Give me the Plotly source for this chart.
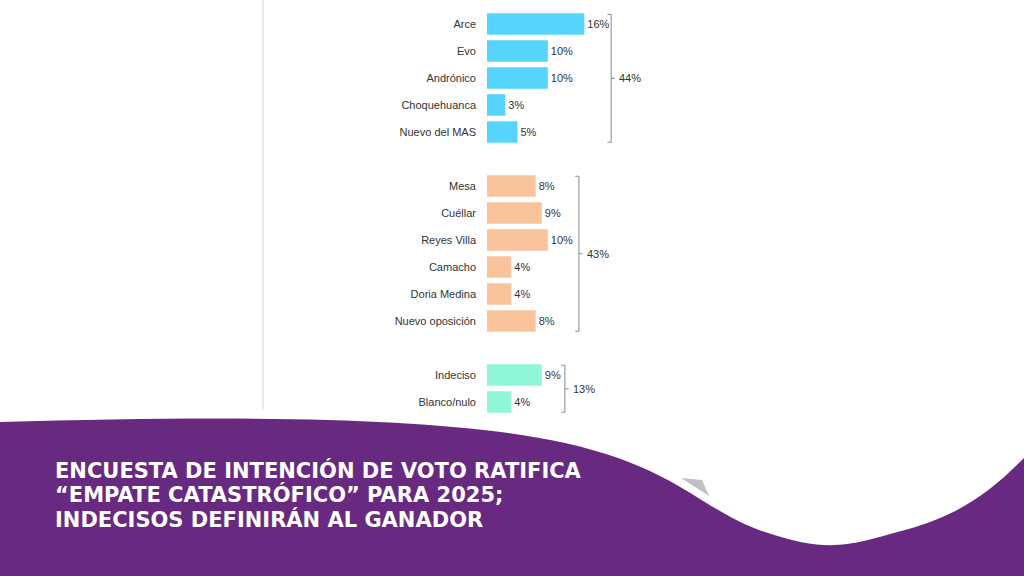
import plotly.graph_objects as go

W, H = 1024, 576

# ---- data ----
mas_names = ["Arce", "Evo", "Andrónico", "Choquehuanca", "Nuevo del MAS"]
mas_values = [16, 10, 10, 3, 5]
opo_names = ["Mesa", "Cuéllar", "Reyes Villa", "Camacho", "Doria Medina", "Nuevo oposición"]
opo_values = [8, 9, 10, 4, 4, 8]
ind_names = ["Indeciso", "Blanco/nulo"]
ind_values = [9, 4]
group_totals = ["44%", "43%", "13%"]
title_lines = [
    "ENCUESTA DE INTENCIÓN DE VOTO RATIFICA",
    "“EMPATE CATASTRÓFICO” PARA 2025;",
    "INDECISOS DEFINIRÁN AL GANADOR",
]

# ---- style ----
colors = ["#56d4fd", "#f9c49b", "#8ff7d7"]
bracket_x = [20.4, 15.1, 12.8]   # bracket position (in % units) per group
label_font = dict(family="Liberation Sans Narrow, Arial Narrow, Liberation Sans, Arial", size=11, color="#333333")
purple = "#682a80"

groups = [(mas_names, mas_values), (opo_names, opo_values), (ind_names, ind_values)]

fig = go.Figure()
tickvals, ticktext = [], []
pos = 0
group_spans = []
for gi, (names, vals) in enumerate(groups):
    ys = list(range(pos, pos + len(names)))
    fig.add_trace(go.Bar(
        x=vals, y=ys, orientation="h", width=0.8,
        marker=dict(color=colors[gi], line=dict(width=0)),
        text=[f"{v}%" for v in vals], textposition="outside",
        textfont=label_font, cliponaxis=False, showlegend=False,
        hoverinfo="skip",
    ))
    tickvals += ys
    ticktext += names
    group_spans.append((ys[0], ys[-1]))
    pos += len(names) + 1

n_rows = pos - 1

def px(x, y):
    return x / W, 1 - y / H

# axis geometry
x0_px, x1_px = 487, 700
px_per_pct = 6.085
xr = (x1_px - x0_px) / px_per_pct
row_h = 27.0
y_top_center = 24.0
top_px = y_top_center - 0.5 * row_h
bot_px = y_top_center + (n_rows - 0.5) * row_h

shapes = []
annotations = []

# brackets
for gi, (a, b) in enumerate(group_spans):
    bx = bracket_x[gi]
    t = a - 0.36
    bt = b + 0.38
    tick = 0.6
    line = dict(color="#8a8a8a", width=1)
    shapes.append(dict(type="line", xref="x", yref="y", x0=bx, x1=bx, y0=t, y1=bt, line=line))
    shapes.append(dict(type="line", xref="x", yref="y", x0=bx - tick, x1=bx, y0=t, y1=t, line=line))
    shapes.append(dict(type="line", xref="x", yref="y", x0=bx - tick, x1=bx, y0=bt, y1=bt, line=line))
    mid = (t + bt) / 2
    shapes.append(dict(type="line", xref="x", yref="y", x0=bx, x1=bx + tick, y0=mid, y1=mid, line=line))
    annotations.append(dict(xref="x", yref="y", x=bx + 1.0, y=mid, text=group_totals[gi],
                            showarrow=False, xanchor="left", yanchor="middle", font=label_font))

# vertical separator line
ax, ay = px(263, 0)
bx_, by_ = px(263, 410)
shapes.append(dict(type="line", xref="paper", yref="paper", x0=ax, x1=bx_, y0=ay, y1=by_,
                   line=dict(color="#ebebeb", width=2), layer="below"))

# purple wave banner
def P(x, y):
    u, v = px(x, y)
    return f"{u:.5f},{v:.5f}"

path = (f"M {P(0,422)} C {P(250,415)} {P(450,417)} {P(565,443)} "
        f"S {P(700,510)} {P(765,532)} S {P(850,545)} {P(905,530)} "
        f"S {P(990,492)} {P(1024,458)} L {P(1024,576)} L {P(0,576)} Z")
shapes.append(dict(type="path", xref="paper", yref="paper", path=path,
                   fillcolor=purple, line=dict(width=0), layer="above"))

# small grey shadow
spath = f"M {P(681,478)} L {P(702,480)} L {P(709,496)} Z"
shapes.append(dict(type="path", xref="paper", yref="paper", path=spath,
                   fillcolor="rgba(140,140,140,0.55)", line=dict(width=0), layer="above"))

# title text
for i, line_txt in enumerate(title_lines):
    tx, ty = px(53, 470 + i * 24.5)
    annotations.append(dict(xref="paper", yref="paper", x=tx, y=ty, text=f"<b>{line_txt}</b>",
                            showarrow=False, xanchor="left", yanchor="middle",
                            font=dict(family="DejaVu Sans, Liberation Sans", size=21, color="white")))

fig.update_layout(
    width=W, height=H,
    margin=dict(l=0, r=0, t=0, b=0),
    paper_bgcolor="white", plot_bgcolor="white",
    bargap=0.2,
    xaxis=dict(domain=[x0_px / W, x1_px / W], range=[0, xr], visible=False, fixedrange=True),
    yaxis=dict(domain=[1 - bot_px / H, 1 - top_px / H], range=[n_rows - 0.5, -0.5],
               tickvals=tickvals, ticktext=ticktext, tickfont=label_font,
               showgrid=False, zeroline=False, showline=False, ticks="",
               ticklabelstandoff=10, fixedrange=True),
    shapes=shapes, annotations=annotations,
)

fig.write_html("out.html", config={"displayModeBar": False, "staticPlot": True},
               post_script="document.body.style.margin='0';document.body.style.overflow='hidden';")
